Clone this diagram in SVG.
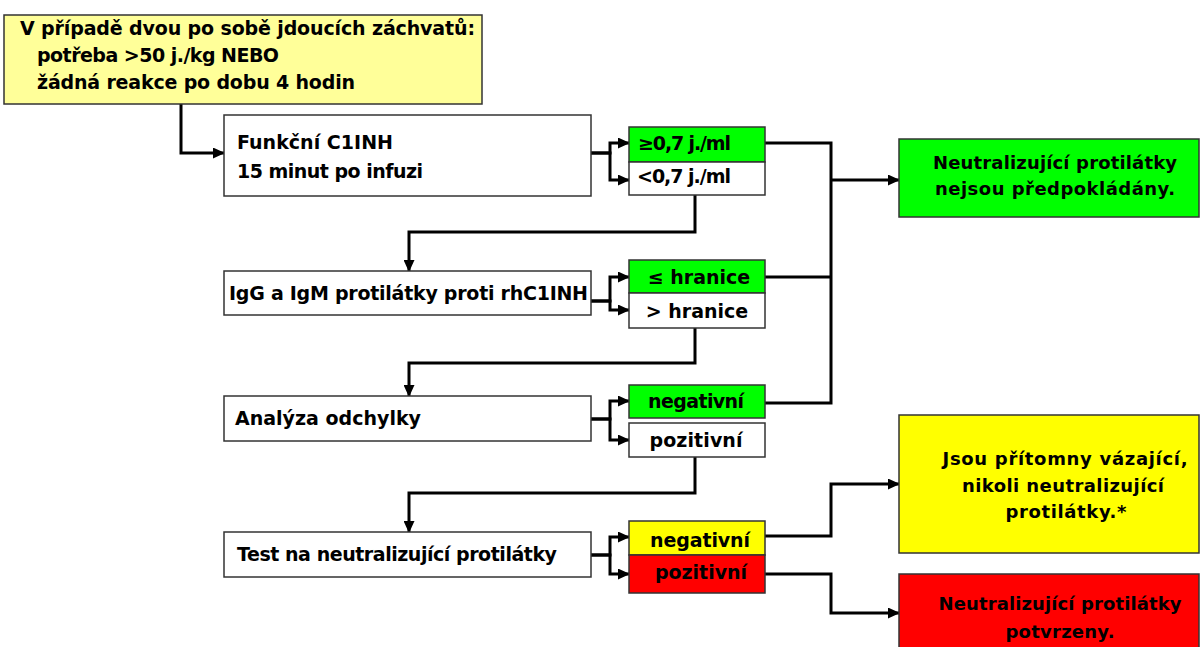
<svg xmlns="http://www.w3.org/2000/svg" width="1202" height="647" viewBox="0 0 1202 647">
<style>
.box{stroke:#333;stroke-width:1.5}
.t{font-family:"DejaVu Sans","Liberation Sans",sans-serif;font-weight:bold;font-size:19px;fill:#000}
.s{font-size:18px}
.c{text-anchor:middle}
.ln{fill:none;stroke:#000;stroke-width:3;stroke-linejoin:miter}
.ar{marker-end:url(#ah)}
</style>
<defs>
<marker id="ah" markerUnits="userSpaceOnUse" markerWidth="12" markerHeight="11" refX="11" refY="5.5" orient="auto" viewBox="0 0 12 11">
<path d="M0,0 L12,5.5 L0,11 z" fill="#000"/>
</marker>
</defs>
<g id="connectors">
<path class="ln ar" d="M181,104 V153 H224"/>
<path class="ln ar" d="M591,153 H610 V143 H629"/>
<path class="ln ar" d="M591,153 H610 V180 H629"/>
<path class="ln" d="M765,143 H831 V403 H765"/>
<path class="ln" d="M765,277 H831"/>
<path class="ln ar" d="M831,180 H899"/>
<path class="ln ar" d="M695,195 V232 H409 V271"/>
<path class="ln ar" d="M591,301 H610 V277 H629"/>
<path class="ln ar" d="M591,301 H610 V310 H629"/>
<path class="ln ar" d="M695,328 V363 H409 V396"/>
<path class="ln ar" d="M591,419 H610 V401 H629"/>
<path class="ln ar" d="M591,419 H610 V440 H629"/>
<path class="ln ar" d="M695,457 V493 H409 V532"/>
<path class="ln ar" d="M591,555 H610 V537 H629"/>
<path class="ln ar" d="M591,555 H610 V574 H629"/>
<path class="ln ar" d="M765,536 H831 V484 H899"/>
<path class="ln ar" d="M765,574 H831 V613 H899"/>
</g>
<g id="start">
<rect class="box" x="4" y="15" width="478" height="89" fill="#FFFF99"/>
<text class="t" x="20" y="35" textLength="455">V případě dvou po sobě jdoucích záchvatů:</text>
<text class="t" x="37" y="62" textLength="242">potřeba &gt;50 j./kg NEBO</text>
<text class="t" x="37" y="89" textLength="318">žádná reakce po dobu 4 hodin</text>
</g>
<g id="funkcni">
<rect class="box" x="224" y="115" width="367" height="81" fill="#fff"/>
<text class="t" x="237" y="149" textLength="156">Funkční C1INH</text>
<text class="t" x="237" y="178" textLength="186">15 minut po infuzi</text>
</g>
<g id="f-hi">
<rect class="box" x="629" y="127" width="136" height="35" fill="#00FF00"/>
<text class="t" x="638" y="150" textLength="93">≥0,7 j./ml</text>
</g>
<g id="f-lo">
<rect class="box" x="629" y="162" width="136" height="33" fill="#fff"/>
<text class="t" x="637" y="183" textLength="94">&lt;0,7 j./ml</text>
</g>
<g id="igg">
<rect class="box" x="224" y="271" width="367" height="44" fill="#fff"/>
<text class="t" x="229" y="300" textLength="359">IgG a IgM protilátky proti rhC1INH</text>
</g>
<g id="igg-lo">
<rect class="box" x="629" y="260" width="136" height="33" fill="#00FF00"/>
<text class="t c" x="699" y="284">≤ hranice</text>
</g>
<g id="igg-hi">
<rect class="box" x="629" y="293" width="136" height="35" fill="#fff"/>
<text class="t c" x="697" y="318">&gt; hranice</text>
</g>
<g id="analyza">
<rect class="box" x="224" y="396" width="367" height="45" fill="#fff"/>
<text class="t" x="235" y="425" textLength="186">Analýza odchylky</text>
</g>
<g id="a-neg">
<rect class="box" x="629" y="385" width="136" height="33" fill="#00FF00"/>
<text class="t c" x="696" y="408" textLength="96">negativní</text>
</g>
<g id="a-poz">
<rect class="box" x="629" y="423" width="136" height="34" fill="#fff"/>
<text class="t c" x="696" y="447" textLength="93">pozitivní</text>
</g>
<g id="test">
<rect class="box" x="224" y="532" width="367" height="45" fill="#fff"/>
<text class="t" x="237" y="561" textLength="320">Test na neutralizující protilátky</text>
</g>
<g id="t-neg">
<rect class="box" x="629" y="521" width="136" height="34" fill="#FFFF00"/>
<text class="t c" x="700" y="547" textLength="100">negativní</text>
</g>
<g id="t-poz">
<rect class="box" x="629" y="555" width="136" height="38" fill="#FF0000"/>
<text class="t c" x="701" y="579" textLength="92">pozitivní</text>
</g>
<g id="res-none">
<rect class="box" x="899" y="139" width="300" height="78" fill="#00FF00"/>
<text class="t s c" x="1055" y="169" textLength="244">Neutralizující protilátky</text>
<text class="t s c" x="1055" y="195" textLength="240">nejsou předpokládány.</text>
</g>
<g id="res-binding">
<rect class="box" x="899" y="415" width="300" height="138" fill="#FFFF00"/>
<text class="t s c" x="1065" y="465" textLength="245">Jsou přítomny vázající,</text>
<text class="t s c" x="1063" y="492" textLength="202">nikoli neutralizující</text>
<text class="t s c" x="1066" y="518" textLength="121">protilátky.*</text>
</g>
<g id="res-neutral">
<rect class="box" x="899" y="574" width="300" height="80" fill="#FF0000"/>
<text class="t s c" x="1060" y="610" textLength="243">Neutralizující protilátky</text>
<text class="t s c" x="1060" y="638" textLength="109">potvrzeny.</text>
</g>
</svg>
